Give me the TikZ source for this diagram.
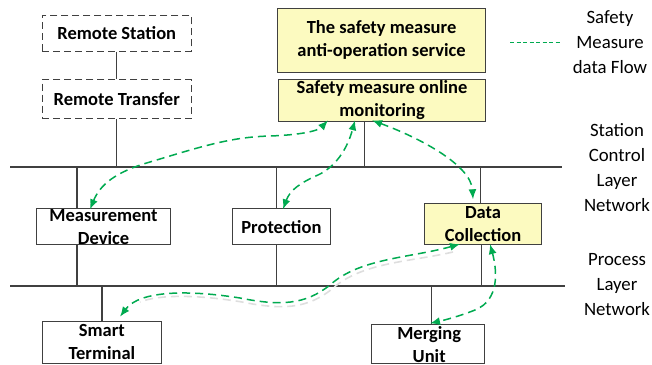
\documentclass[tikz,border=0pt]{standalone}
\usepackage{fontspec}
\setmainfont{Carlito}
\usetikzlibrary{arrows.meta,calc}
\definecolor{boxline}{RGB}{64,64,64}
\definecolor{yfill}{RGB}{252,250,192}
\definecolor{flowgreen}{RGB}{0,170,80}
\begin{document}
\begin{tikzpicture}[x=1pt,y=-1pt,
  box/.style={draw=boxline,line width=1.1pt,rectangle,inner sep=0pt,anchor=north west},
  dbox/.style={box,dash pattern=on 7pt off 4pt},
  ybox/.style={box,fill=yfill},
  btxt/.style={font={\fontsize{18.5}{23}\selectfont\bfseries},align=center,inner sep=0pt},
  rtxt/.style={font={\fontsize{18.8}{25}\selectfont},align=center,inner sep=0pt},
  bus/.style={draw=boxline,line width=1.5pt},
  wire/.style={draw=boxline,line width=1.2pt},
  flow/.style={draw=flowgreen,line width=1.5pt,dash pattern=on 8pt off 5pt,{Latex[length=10pt,width=8pt]}-{Latex[length=10pt,width=8pt]}},
  shadowflow/.style={draw=black!13,line width=1.6pt,dash pattern=on 8pt off 5pt},
  legendline/.style={draw=flowgreen,line width=1.5pt,dash pattern=on 4pt off 2.5pt}]
\useasboundingbox (0,0) rectangle (652,364);

% boxes
\node[dbox,minimum width=149pt,minimum height=36pt] (rs) at (41.7,14.7) {};
\node[dbox,minimum width=149pt,minimum height=39pt] (rt) at (41.7,79) {};
\node[ybox,minimum width=208.6pt,minimum height=63.4pt] (svc) at (276.7,8.3) {};
\node[ybox,minimum width=207.6pt,minimum height=41.7pt] (mon) at (277.7,79) {};
\node[box,minimum width=134.6pt,minimum height=35.7pt] (meas) at (35.7,208.3) {};
\node[box,minimum width=98.3pt,minimum height=35.7pt] (prot) at (231.7,208.3) {};
\node[ybox,minimum width=116.4pt,minimum height=40.7pt] (dc) at (424.3,203.3) {};
\node[box,minimum width=119.3pt,minimum height=42pt] (st) at (41.7,320.7) {};
\node[box,minimum width=113.3pt,minimum height=39pt] (mu) at (371,324.3) {};

% box texts
\node[btxt] (rsT) at (rs.center) {Remote Station};
\node[btxt] (rtT) at (rt.center) {Remote Transfer};
\node[btxt] (svcT) at ([yshift=1pt]svc.center) {The safety measure\\anti-operation service};
\node[btxt] (monT) at (mon.center) {Safety measure online\\monitoring};
\node[btxt] (measT) at (meas.center) {Measurement\\Device};
\node[btxt] (protT) at (prot.center) {Protection};
\node[btxt] (dcT) at (dc.center) {Data\\Collection};
\node[btxt] (stT) at (st.center) {Smart\\Terminal};
\node[btxt] (muT) at ([xshift=1pt]mu.center) {Merging\\Unit};

% right labels
\node[rtxt] (lgT) at (610,42) {Safety\\Measure\\data Flow};
\node[rtxt] (scT) at (617,168) {Station\\Control\\Layer\\Network};
\node[rtxt] (plT) at (617,285) {Process\\Layer\\Network};

% buses
\coordinate (sbW) at (10,167);
\coordinate (sbE) at (562,167);
\coordinate (pbW) at (10,286);
\coordinate (pbE) at (565,286);
\draw[bus] (sbW) -- (sbE);
\draw[bus] (pbW) -- (pbE);

% vertical wires
\draw[wire] (rs.south) -- (rt.north);
\draw[wire] (rt.south) -- (rt.south |- sbW);
\coordinate (monB) at ([xshift=-17.5pt]mon.south);
\draw[wire] (monB) -- (monB |- sbW);
\coordinate (measT1) at ([xshift=41.3pt]meas.north west);
\coordinate (measB1) at ([xshift=41.3pt]meas.south west);
\draw[wire] (measT1) -- (measT1 |- sbW);
\draw[wire] (measB1) -- (measB1 |- pbW);
\coordinate (protT1) at ([xshift=45pt]prot.north west);
\coordinate (protB1) at ([xshift=45pt]prot.south west);
\draw[wire] (protT1) -- (protT1 |- sbW);
\draw[wire] (protB1) -- (protB1 |- pbW);
\coordinate (dcT1) at ([xshift=56.4pt]dc.north west);
\coordinate (dcB1) at ([xshift=57.4pt]dc.south west);
\draw[wire] (dcT1) -- (dcT1 |- sbW);
\draw[wire] (dcB1) -- (dcB1 |- pbW);
\draw[wire] (st.north) -- (st.north |- pbW);
\coordinate (muT1) at ([xshift=60.7pt]mu.north west);
\draw[wire] (muT1) -- (muT1 |- pbW);

% legend
\coordinate (lg1) at (510,42.7);
\coordinate (lg2) at (560,42.7);
\draw[legendline] (lg1) -- (lg2);

% flow anchors
\coordinate (f1a) at ([xshift=54.3pt,yshift=-1pt]meas.north west);
\coordinate (f1b) at ([xshift=50.3pt,yshift=1.5pt]mon.south west);
\coordinate (f2a) at ([xshift=51.3pt,yshift=-1pt]prot.north west);
\coordinate (f2b) at ([xshift=77.3pt,yshift=1.5pt]mon.south west);
\coordinate (f3a) at ([xshift=94.3pt,yshift=1.5pt]mon.south west);
\coordinate (f3b) at ([xshift=48.7pt,yshift=4pt]dc.north west);
\coordinate (f4a) at ([xshift=35.7pt,yshift=1pt]dc.south west);
\coordinate (f4b) at ([xshift=78.3pt,yshift=4pt]st.north west);
\coordinate (f5a) at ([xshift=65.7pt,yshift=1pt]dc.south west);
\coordinate (f5b) at ([xshift=59pt,yshift=1pt]mu.north west);

% shadow of the lower long flow
\draw[shadowflow] (453,252) .. controls (410,262) and (362,262) .. (332,289)
  .. controls (307,309) and (282,310) .. (242,302)
  .. controls (200,295) and (160,294) .. (140,302);

% flows
\draw[flow] (f1a) .. controls (100,185) and (115,172) .. (150,162)
  .. controls (200,147) and (230,137) .. (270,136)
  .. controls (300,135) and (318,131) .. (f1b);
\draw[flow] (f2a) .. controls (290,190) and (300,183) .. (318,175)
  .. controls (335,167) and (347,150) .. (f2b);
\draw[flow] (f3a) .. controls (420,138) and (471,165) .. (f3b);
\draw[flow] (f4a) .. controls (410,258) and (360,258) .. (330,285)
  .. controls (305,305) and (280,306) .. (240,298)
  .. controls (190,290) and (140,290) .. (f4b);
\draw[flow] (f5a) .. controls (497,270) and (500,300) .. (475,310)
  .. controls (460,316) and (445,320) .. (f5b);
\end{tikzpicture}
\end{document}
